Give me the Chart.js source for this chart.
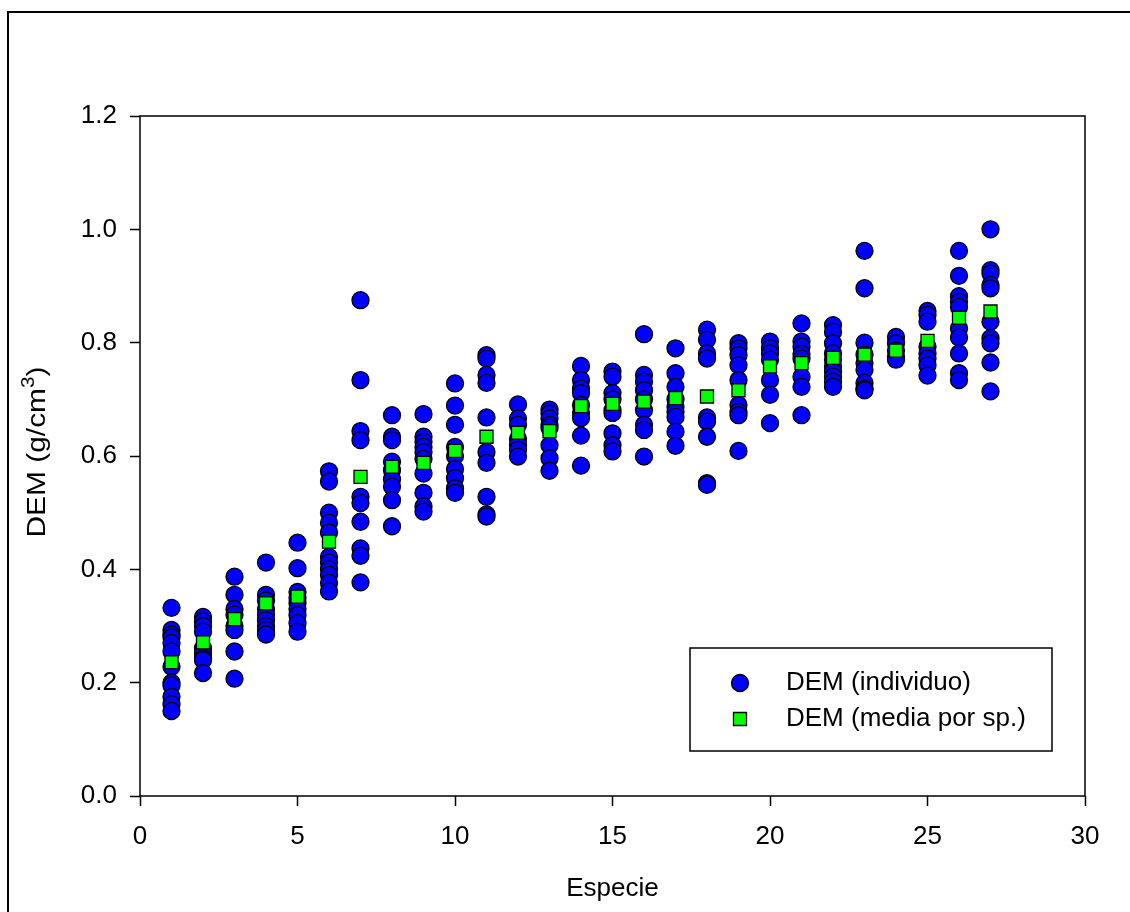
<!DOCTYPE html>
<html>
<head>
<meta charset="utf-8">
<script src="https://cdn.jsdelivr.net/npm/chart.js@4.4.1/dist/chart.umd.min.js"></script>
<style>
  body { margin: 0; background: #fff; }
  canvas { display: block; }
</style>
</head>
<body>
<canvas id="demChart" width="1130" height="912"></canvas>
<script>
    // especies 1..27
    const especies = [1, 2, 3, 4, 5, 6, 7, 8, 9, 10, 11, 12, 13, 14, 15, 16, 17, 18, 19, 20, 21, 22, 23, 24, 25, 26, 27];

    // DEM por individuo, una lista por especie
    const demIndividuo = [
        [0.332, 0.293, 0.285, 0.280, 0.270, 0.255, 0.228, 0.200, 0.195, 0.175, 0.162, 0.150],
        [0.316, 0.308, 0.300, 0.290, 0.261, 0.252, 0.243, 0.240, 0.217],
        [0.387, 0.355, 0.330, 0.320, 0.300, 0.293, 0.255, 0.207],
        [0.412, 0.355, 0.345, 0.330, 0.320, 0.310, 0.300, 0.293, 0.285],
        [0.447, 0.402, 0.360, 0.350, 0.340, 0.330, 0.319, 0.305, 0.290],
        [0.573, 0.555, 0.500, 0.482, 0.465, 0.422, 0.412, 0.400, 0.390, 0.376, 0.361],
        [0.875, 0.734, 0.644, 0.628, 0.528, 0.517, 0.484, 0.437, 0.424, 0.377],
        [0.672, 0.634, 0.628, 0.590, 0.575, 0.559, 0.546, 0.522, 0.476],
        [0.674, 0.634, 0.625, 0.616, 0.607, 0.595, 0.569, 0.535, 0.511, 0.502],
        [0.728, 0.689, 0.655, 0.616, 0.600, 0.577, 0.561, 0.543, 0.535],
        [0.778, 0.772, 0.743, 0.729, 0.668, 0.607, 0.588, 0.528, 0.497, 0.493],
        [0.691, 0.666, 0.655, 0.630, 0.620, 0.611, 0.599],
        [0.682, 0.675, 0.666, 0.655, 0.650, 0.619, 0.596, 0.574],
        [0.759, 0.734, 0.719, 0.711, 0.690, 0.676, 0.667, 0.636, 0.583],
        [0.749, 0.740, 0.711, 0.700, 0.681, 0.676, 0.640, 0.619, 0.608],
        [0.815, 0.743, 0.731, 0.716, 0.700, 0.681, 0.655, 0.646, 0.599],
        [0.790, 0.746, 0.722, 0.700, 0.687, 0.678, 0.669, 0.643, 0.618],
        [0.823, 0.805, 0.781, 0.772, 0.668, 0.661, 0.634, 0.552, 0.549],
        [0.799, 0.790, 0.778, 0.760, 0.734, 0.690, 0.678, 0.672, 0.609],
        [0.802, 0.790, 0.781, 0.770, 0.734, 0.708, 0.658],
        [0.834, 0.802, 0.793, 0.780, 0.772, 0.740, 0.722, 0.672],
        [0.831, 0.819, 0.799, 0.781, 0.770, 0.758, 0.749, 0.740, 0.731, 0.722],
        [0.962, 0.896, 0.800, 0.779, 0.764, 0.752, 0.729, 0.719, 0.716],
        [0.810, 0.799, 0.786, 0.775, 0.770],
        [0.856, 0.849, 0.837, 0.793, 0.781, 0.772, 0.760, 0.742],
        [0.962, 0.918, 0.882, 0.872, 0.863, 0.825, 0.809, 0.781, 0.746, 0.734],
        [1.000, 0.928, 0.922, 0.902, 0.896, 0.837, 0.808, 0.799, 0.765, 0.714]
    ];

    // DEM media por especie
    const demMedia = [0.236, 0.271, 0.312, 0.340, 0.352, 0.449, 0.563, 0.581, 0.588, 0.609,
        0.634, 0.641, 0.644, 0.688, 0.692, 0.696, 0.702, 0.705, 0.716, 0.758,
        0.764, 0.773, 0.779, 0.786, 0.803, 0.844, 0.855];

    const xTicks = [0, 5, 10, 15, 20, 25, 30];
    const yTicks = [0.0, 0.2, 0.4, 0.6, 0.8, 1.0, 1.2];

    const FONT = "'Liberation Sans', Arial, sans-serif";

    const puntosIndividuo = [];
    for (let i = 0; i < especies.length; i++) {
        for (let j = 0; j < demIndividuo[i].length; j++) {
            puntosIndividuo.push({ x: especies[i], y: demIndividuo[i][j] });
        }
    }
    const puntosMedia = especies.map(function (sp, i) { return { x: sp, y: demMedia[i] }; });

    // marco exterior y caja del grafico
    const framePlugin = {
        id: 'frame',
        beforeDraw: function (chart) {
            const ctx = chart.ctx;
            ctx.save();
            ctx.fillStyle = '#fff';
            ctx.fillRect(0, 0, chart.width, chart.height);
            ctx.strokeStyle = '#000';
            ctx.lineWidth = 2;
            ctx.strokeRect(8, 12, chart.width + 20, chart.height + 20);
            ctx.restore();
        },
        afterDraw: function (chart) {
            const a = chart.chartArea;
            const ctx = chart.ctx;
            ctx.save();
            ctx.strokeStyle = '#000';
            ctx.lineWidth = 1.5;
            ctx.strokeRect(a.left, a.top, a.right - a.left, a.bottom - a.top);
            ctx.restore();
        }
    };

    // titulo del eje y con superindice
    const yTitle = {
        id: 'yTitle',
        afterDraw: function (chart) {
            const a = chart.chartArea;
            const ctx = chart.ctx;
            const main = 'DEM (g/cm', sup = '3', end = ')';
            ctx.save();
            ctx.translate(45, (a.top + a.bottom) / 2 - 4);
            ctx.rotate(-Math.PI / 2);
            ctx.scale(1.15, 1);
            ctx.fillStyle = '#000';
            ctx.textBaseline = 'alphabetic';
            ctx.font = '26px ' + FONT;
            const w1 = ctx.measureText(main).width;
            const w3 = ctx.measureText(end).width;
            ctx.font = '18px ' + FONT;
            const w2 = ctx.measureText(sup).width;
            let x = -(w1 + w2 + w3) / 2;
            ctx.font = '26px ' + FONT;
            ctx.fillText(main, x, 0);
            x += w1;
            ctx.font = '18px ' + FONT;
            ctx.fillText(sup, x, -11);
            x += w2;
            ctx.font = '26px ' + FONT;
            ctx.fillText(end, x, 0);
            ctx.restore();
        }
    };

    // leyenda en recuadro dentro del area
    const legendBox = {
        id: 'legendBox',
        afterDraw: function (chart) {
            const a = chart.chartArea;
            const ctx = chart.ctx;
            const right = a.right - 33, bottom = a.bottom - 45;
            const left = right - 362, top = bottom - 103;
            ctx.save();
            ctx.fillStyle = '#fff';
            ctx.fillRect(left, top, right - left, bottom - top);
            ctx.strokeStyle = '#000';
            ctx.lineWidth = 1.5;
            ctx.strokeRect(left, top, right - left, bottom - top);

            ctx.font = '26px ' + FONT;
            ctx.textBaseline = 'middle';
            chart.data.datasets.forEach(function (ds, k) {
                const cy = top + 35 + k * 36;
                const cx = left + 50;
                ctx.fillStyle = ds.backgroundColor;
                ctx.strokeStyle = ds.borderColor;
                ctx.lineWidth = ds.borderWidth;
                ctx.beginPath();
                if (ds.pointStyle === 'circle') {
                    ctx.arc(cx, cy, ds.pointRadius, 0, Math.PI * 2);
                } else {
                    const s = ds.pointRadius * Math.SQRT1_2;
                    ctx.rect(cx - s, cy - s, 2 * s, 2 * s);
                }
                ctx.fill();
                ctx.stroke();
                ctx.fillStyle = '#000';
                ctx.fillText(ds.label, left + 96, cy);
            });
            ctx.restore();
        }
    };

    const ctx = document.getElementById('demChart').getContext('2d');

    new Chart(ctx, {
        type: 'scatter',
        data: {
            datasets: [{
                label: 'DEM (individuo)',
                data: puntosIndividuo,
                pointStyle: 'circle',
                pointRadius: 8.5,
                backgroundColor: '#0000ff',
                borderColor: '#000',
                borderWidth: 1.3,
                order: 2
            }, {
                label: 'DEM (media por sp.)',
                data: puntosMedia,
                pointStyle: 'rect',
                pointRadius: 9.2,
                backgroundColor: '#00ff00',
                borderColor: '#000',
                borderWidth: 1.3,
                order: 1
            }]
        },
        options: {
            responsive: false,
            animation: false,
            layout: { padding: { top: 116, right: 45, left: 0, bottom: 0 } },
            plugins: {
                legend: { display: false },
                tooltip: { enabled: false }
            },
            scales: {
                x: {
                    type: 'linear',
                    min: 0,
                    max: 30,
                    afterFit: function (scale) { scale.height = 116; },
                    afterBuildTicks: function (scale) {
                        scale.ticks = xTicks.map(function (v) { return { value: v }; });
                    },
                    ticks: {
                        color: '#000',
                        font: { family: FONT, size: 26 },
                        padding: 15,
                        maxRotation: 0,
                        callback: function (v) { return String(v); }
                    },
                    grid: {
                        drawOnChartArea: false,
                        drawTicks: true,
                        tickLength: 10,
                        tickWidth: 1.5,
                        tickColor: '#000'
                    },
                    border: { display: false },
                    title: {
                        display: true,
                        text: 'Especie',
                        color: '#000',
                        font: { family: FONT, size: 26 },
                        padding: { top: 0, bottom: 8 }
                    }
                },
                y: {
                    type: 'linear',
                    min: 0,
                    max: 1.2,
                    afterFit: function (scale) { scale.width = 140; },
                    afterBuildTicks: function (scale) {
                        scale.ticks = yTicks.map(function (v) { return { value: v }; });
                    },
                    ticks: {
                        color: '#000',
                        font: { family: FONT, size: 26 },
                        padding: 13,
                        callback: function (v) { return Number(v).toFixed(1); }
                    },
                    grid: {
                        drawOnChartArea: false,
                        drawTicks: true,
                        tickLength: 10,
                        tickWidth: 1.5,
                        tickColor: '#000'
                    },
                    border: { display: false },
                    title: { display: false }
                }
            }
        },
        plugins: [framePlugin, yTitle, legendBox]
    });
</script>
</body>
</html>
